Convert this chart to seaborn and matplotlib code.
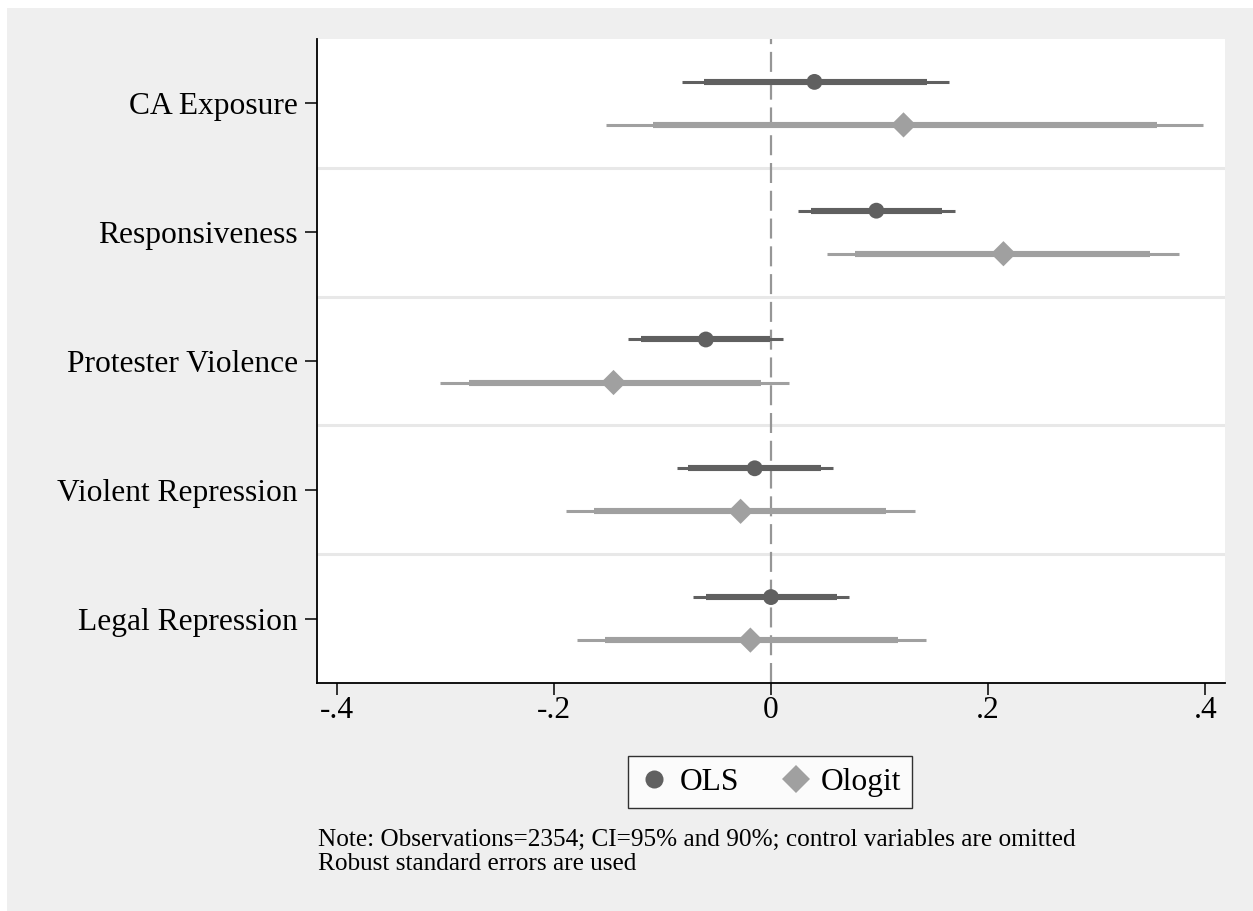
import numpy as np
import pandas as pd
import matplotlib
matplotlib.use("Agg")
import matplotlib.pyplot as plt
from matplotlib.patches import Rectangle
import seaborn as sns

# coefficients and confidence intervals
labels = ["CA Exposure", "Responsiveness", "Protester Violence",
          "Violent Repression", "Legal Repression"]
models = ["OLS", "Ologit"]

ols_coef = [0.040, 0.097, -0.060, -0.015, 0.000]
ols_lo90 = [-0.062, 0.037, -0.120, -0.076, -0.060]
ols_hi90 = [0.144, 0.157, -0.001, 0.046, 0.061]
ols_lo95 = [-0.082, 0.025, -0.132, -0.087, -0.072]
ols_hi95 = [0.164, 0.169, 0.011, 0.057, 0.072]

ologit_coef = [0.122, 0.214, -0.145, -0.028, -0.019]
ologit_lo90 = [-0.109, 0.077, -0.278, -0.163, -0.153]
ologit_hi90 = [0.355, 0.349, -0.009, 0.106, 0.117]
ologit_lo95 = [-0.152, 0.052, -0.305, -0.189, -0.179]
ologit_hi95 = [0.398, 0.376, 0.017, 0.133, 0.143]

xticks = [-0.4, -0.2, 0, 0.2, 0.4]
xtick_labels = ["-.4", "-.2", "0", ".2", ".4"]

note1 = "Note: Observations=2354; CI=95% and 90%; control variables are omitted"
note2 = "Robust standard errors are used"

colors = {"OLS": "#606060", "Ologit": "#a0a0a0"}
offsets = {"OLS": -0.167, "Ologit": 0.167}

# long table for seaborn
rows = []
for m, coef, lo90, hi90, lo95, hi95 in [
        ("OLS", ols_coef, ols_lo90, ols_hi90, ols_lo95, ols_hi95),
        ("Ologit", ologit_coef, ologit_lo90, ologit_hi90, ologit_lo95, ologit_hi95)]:
    for i, lab in enumerate(labels):
        rows.append({"var": lab, "model": m, "y": i + offsets[m], "coef": coef[i],
                     "lo90": lo90[i], "hi90": hi90[i], "lo95": lo95[i], "hi95": hi95[i]})
df = pd.DataFrame(rows)

sns.set_theme(style="white")
plt.rcParams["font.family"] = ["Liberation Serif", "DejaVu Serif"]
plt.rcParams["text.color"] = "black"
plt.rcParams["xtick.color"] = "black"
plt.rcParams["ytick.color"] = "black"

fig = plt.figure(figsize=(12.53, 9.11), dpi=100, facecolor="white")
fig.patches.append(Rectangle((7 / 1253, 0), 1, 1 - 8 / 911, transform=fig.transFigure,
                             facecolor="#efefef", edgecolor="none", zorder=-10))
ax = fig.add_axes([317 / 1253, 1 - 683 / 911, (1225 - 317) / 1253, (683 - 39) / 911])
ax.set_facecolor("white")

# group separators
for k in range(len(labels) - 1):
    ax.axhline(k + 0.5, color="#e8e8e8", lw=2.2, zorder=0)

# reference line at zero
ax.axvline(0, color="#969696", lw=1.6, dashes=(9, 3.5), zorder=1)

# confidence intervals
for m in models:
    sub = df[df.model == m]
    ax.hlines(sub.y, sub.lo95, sub.hi95, color=colors[m], lw=2.2, zorder=2, capstyle="butt")
    ax.hlines(sub.y, sub.lo90, sub.hi90, color=colors[m], lw=4.4, zorder=3, capstyle="butt")

sns.scatterplot(data=df, x="coef", y="y", hue="model", style="model", size="model",
                palette=colors, markers={"OLS": "o", "Ologit": "D"},
                sizes={"OLS": 130, "Ologit": 165}, linewidth=0, ax=ax, zorder=4,
                legend=True)

ax.set_xlim(-0.418, 0.418)
ax.set_ylim(len(labels) - 0.5, -0.5)
ax.set_xticks(xticks)
ax.set_xticklabels(xtick_labels)
ax.set_yticks(range(len(labels)))
ax.set_yticklabels(labels)
ax.set_xlabel("")
ax.set_ylabel("")
ax.tick_params(axis="both", labelsize=22.7, length=8.6, width=1.1, color="black",
               labelcolor="black", direction="out")
ax.tick_params(axis="x", pad=1)
ax.tick_params(axis="y", pad=5)
ax.tick_params(bottom=True, left=True)
for side in ["top", "right"]:
    ax.spines[side].set_visible(False)
for side in ["left", "bottom"]:
    ax.spines[side].set_color("black")
    ax.spines[side].set_linewidth(1.3)

handles, labs = ax.get_legend_handles_labels()
for h, lab in zip(handles, labs):
    h.set_markersize(13 if lab == "OLS" else 14)
    h.set_markeredgewidth(0)
leg = ax.legend(handles, labs, loc="center", bbox_to_anchor=(770 / 1253, 1 - 782 / 911),
                bbox_transform=fig.transFigure, ncol=2, frameon=True, fancybox=False,
                fontsize=22.7, handletextpad=0.3, columnspacing=1.3, borderpad=0.35,
                handlelength=1.0)
leg.get_frame().set_edgecolor("black")
leg.get_frame().set_linewidth(1.0)
leg.get_frame().set_facecolor("white")
for t in leg.get_texts():
    t.set_color("black")

fig.text(318 / 1253, 1 - 846 / 911, note1, fontsize=18.2, va="baseline", ha="left",
         color="black")
fig.text(318 / 1253, 1 - 870 / 911, note2, fontsize=18.2, va="baseline", ha="left",
         color="black")

fig.savefig("out.png", dpi=100, facecolor=fig.get_facecolor())
